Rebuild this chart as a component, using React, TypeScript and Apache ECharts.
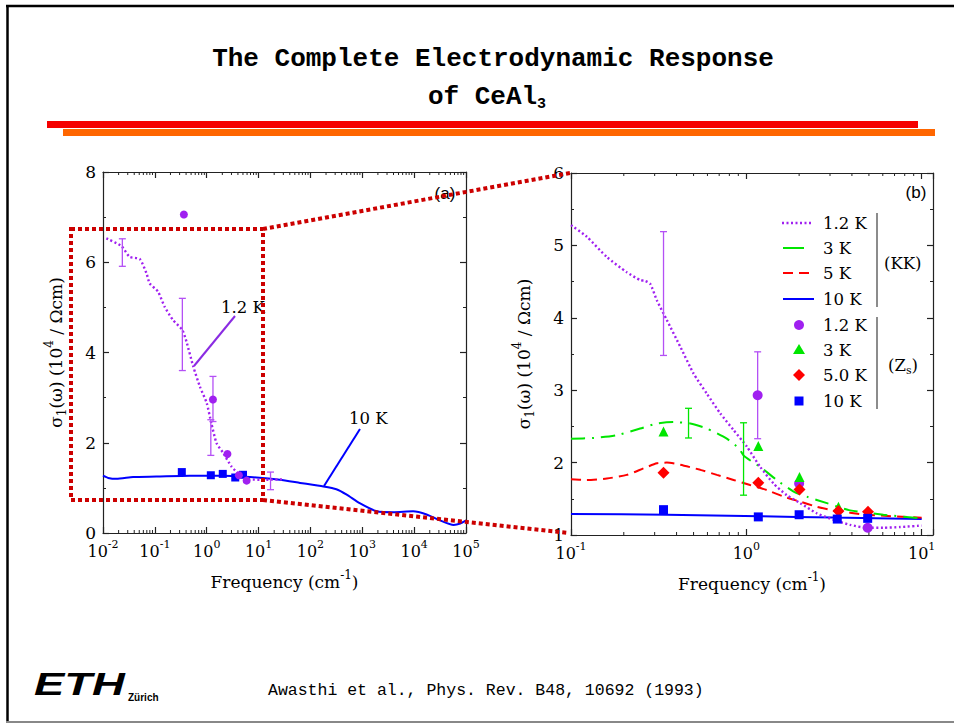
import React, { useEffect, useRef } from 'react';
import * as echarts from 'echarts';

const FONT = 'DejaVu Serif';

// ---------- Panel (a) data ----------
const aKK12Freq = [0.0116, 0.0226, 0.0327, 0.0513, 0.0692, 0.0794, 0.115, 0.155, 0.224, 0.339, 0.407, 0.55, 0.741, 1.0, 1.23, 1.55, 2.09, 3.02, 4.37, 6.76, 14.1, 29.5];
const aKK12Sig = [6.53, 6.36, 6.12, 6.07, 5.75, 5.53, 5.35, 5.01, 4.72, 4.5, 4.24, 3.69, 3.24, 2.88, 2.43, 1.99, 1.77, 1.47, 1.29, 1.19, 1.18, 1.19];
const aKK10Freq = [0.01, 0.0126, 0.0182, 0.038, 0.107, 0.468, 2.09, 9.12, 25.7, 63.1, 178, 316, 501, 891, 1905, 3981, 9550, 17400, 31600, 57500, 77600, 100000];
const aKK10Sig = [1.27, 1.22, 1.2, 1.24, 1.25, 1.27, 1.27, 1.23, 1.18, 1.11, 1.03, 0.97, 0.85, 0.66, 0.48, 0.46, 0.48, 0.41, 0.28, 0.18, 0.21, 0.28];
const aZs12Freq = [0.363, 1.32, 2.51, 4.17, 5.89];
const aZs12Sig = [7.06, 2.96, 1.75, 1.28, 1.16];
const aZs10Freq = [0.331, 1.2, 2.04, 3.55, 5.01];
const aZs10Sig = [1.35, 1.28, 1.31, 1.23, 1.29];
const aErrFreq = [0.0236, 0.339, 1.32, 1.2, 17.0];
const aErrLow = [5.91, 3.6, 2.47, 1.72, 0.96];
const aErrHigh = [6.52, 5.2, 3.47, 2.51, 1.35];

// ---------- Panel (b) data ----------
const bKK12Freq = [0.1, 0.123, 0.16, 0.208, 0.248, 0.265, 0.283, 0.309, 0.352, 0.42, 0.5, 0.596, 0.71, 0.845, 1.007, 1.2, 1.43, 1.7, 2.03, 2.52, 3.14, 3.91, 4.86, 6.05, 7.53, 10];
const bKK12Sig = [5.28, 5.12, 4.84, 4.63, 4.52, 4.51, 4.47, 4.24, 3.97, 3.6, 3.23, 2.95, 2.68, 2.45, 2.22, 1.94, 1.71, 1.55, 1.44, 1.3, 1.21, 1.14, 1.1, 1.1, 1.11, 1.13];
const bKK3Freq = [0.1, 0.135, 0.183, 0.248, 0.309, 0.385, 0.479, 0.596, 0.774, 0.905, 0.97, 1.2, 1.49, 1.86, 2.21, 2.88, 3.91, 6.05, 10];
const bKK3Sig = [2.33, 2.34, 2.38, 2.47, 2.54, 2.56, 2.54, 2.47, 2.33, 2.2, 2.09, 1.94, 1.76, 1.6, 1.53, 1.44, 1.34, 1.28, 1.23];
const bKK5Freq = [0.1, 0.123, 0.16, 0.208, 0.259, 0.309, 0.352, 0.42, 0.546, 0.679, 0.845, 1.05, 1.31, 1.63, 2.03, 2.52, 3.14, 4.86, 10];
const bKK5Sig = [1.77, 1.76, 1.78, 1.83, 1.92, 1.99, 2.0, 1.97, 1.9, 1.83, 1.76, 1.69, 1.62, 1.53, 1.46, 1.39, 1.34, 1.28, 1.24];
const bKK10Freq = [0.1, 0.352, 1.2, 3.14, 10];
const bKK10Sig = [1.29, 1.28, 1.26, 1.24, 1.22];
const bZs12Freq = [1.16, 2.0, 4.92];
const bZs12Sig = [2.93, 1.71, 1.1];
const bZs3Freq = [0.337, 1.17, 2.01, 3.35];
const bZs3Sig = [2.43, 2.23, 1.8, 1.39];
const bZs5Freq = [0.337, 1.17, 2.01, 3.35, 4.94];
const bZs5Sig = [1.86, 1.72, 1.63, 1.33, 1.32];
const bZs10Freq = [0.337, 1.17, 2.0, 3.3, 4.92];
const bZs10Sig = [1.35, 1.25, 1.28, 1.22, 1.23];
const bErr12Freq = [0.337, 1.16];
const bErr12Low = [3.48, 2.33];
const bErr12High = [5.19, 3.53];
const bErr3Freq = [0.468, 0.964];
const bErr3Low = [2.34, 1.55];
const bErr3High = [2.75, 2.55];

// minor log tick mantissas
const mantissas = [2, 3, 4, 5, 6, 7, 8, 9];
const aDecades = [0.01, 0.1, 1, 10, 100, 1000, 10000];
const bDecades = [0.1, 1];

const PURPLE = '#a020f0';
const PURPLE_ERR = '#b450f5';
const GREEN = '#00e600';
const RED = '#ff0000';
const BLUE = '#0000ff';
const AXIS = '#222';

const zip = (xs: number[], ys: number[]) => xs.map((x, i) => [x, ys[i]]);
const zip3 = (xs: number[], a: number[], b: number[]) => xs.map((x, i) => [x, a[i], b[i]]);

const rich = {
  b: { fontFamily: FONT, fontSize: 16, color: '#000', lineHeight: 24 },
  s: { fontFamily: FONT, fontSize: 11, color: '#000', verticalAlign: 'top', lineHeight: 13 },
  u: { fontFamily: FONT, fontSize: 11, color: '#000', verticalAlign: 'bottom', lineHeight: 13 },
};
const nameRich = {
  b: { fontFamily: FONT, fontSize: 17, color: '#000', lineHeight: 25 },
  s: { fontFamily: FONT, fontSize: 12, color: '#000', verticalAlign: 'top', lineHeight: 14 },
  u: { fontFamily: FONT, fontSize: 12, color: '#000', verticalAlign: 'bottom', lineHeight: 14 },
};

const logFmt = (v: number) => {
  const e = Math.log10(v);
  const r = Math.round(e);
  if (Math.abs(e - r) > 1e-6) return '';
  return `{b|10}{s|${r}}`;
};

function xAxisDef(grid: number, min: number, max: number, top: boolean) {
  return {
    type: 'log', logBase: 10, gridIndex: grid, min, max,
    position: top ? 'top' : 'bottom',
    axisLine: { show: true, onZero: false, lineStyle: { color: AXIS, width: 1.2 } },
    axisTick: { show: true, inside: true, length: 6, lineStyle: { color: AXIS, width: 1.2 } },
    axisLabel: top ? { show: false } : { show: true, margin: 6, formatter: logFmt, rich },
    splitLine: { show: false },
    name: top ? '' : '{b|Frequency (cm}{s|-1}{b|)}',
    nameLocation: 'middle', nameGap: 36,
    nameTextStyle: { rich: nameRich },
  };
}

function yAxisDef(grid: number, min: number, max: number, interval: number, right: boolean) {
  return {
    type: 'value', gridIndex: grid, min, max, interval,
    position: right ? 'right' : 'left',
    axisLine: { show: true, onZero: false, lineStyle: { color: AXIS, width: 1.2 } },
    axisTick: { show: true, inside: true, length: 6, lineStyle: { color: AXIS, width: 1.2 } },
    minorTick: { show: true, splitNumber: 2, length: 3, lineStyle: { color: AXIS, width: 1 } },
    axisLabel: right ? { show: false } : { show: true, margin: 7, fontFamily: FONT, fontSize: 17, color: '#000' },
    splitLine: { show: false },
    name: right ? '' : '{b|σ}{u|1}{b|(ω) (10}{s|4}{b| / Ωcm)}',
    nameLocation: 'middle', nameRotate: 90, nameGap: 35,
    nameTextStyle: { rich: nameRich },
  };
}

const errRender = (color: string) => (params: any, api: any) => {
  const x = api.value(0);
  const a = api.coord([x, api.value(1)]);
  const b = api.coord([x, api.value(2)]);
  const w = 3.5;
  const st = { stroke: color, lineWidth: 1.3 };
  return {
    type: 'group',
    children: [
      { type: 'line', shape: { x1: a[0], y1: a[1], x2: b[0], y2: b[1] }, style: st },
      { type: 'line', shape: { x1: a[0] - w, y1: a[1], x2: a[0] + w, y2: a[1] }, style: st },
      { type: 'line', shape: { x1: b[0] - w, y1: b[1], x2: b[0] + w, y2: b[1] }, style: st },
    ],
  };
};

const minorRender = (params: any, api: any) => {
  const x = api.value(0);
  const a = api.coord([x, api.value(1)]);
  const b = api.coord([x, api.value(2)]);
  const st = { stroke: AXIS, lineWidth: 1 };
  return {
    type: 'group',
    children: [
      { type: 'line', shape: { x1: a[0], y1: a[1], x2: a[0], y2: a[1] - 3 }, style: st },
      { type: 'line', shape: { x1: b[0], y1: b[1], x2: b[0], y2: b[1] + 3 }, style: st },
    ],
  };
};

function minorData(decades: number[], lo: number, hi: number, maxF: number) {
  const out: number[][] = [];
  decades.forEach((d) => mantissas.forEach((m) => { if (d * m <= maxF) out.push([d * m, lo, hi]); }));
  return out;
}

const lineSeries = (name: string, xi: number, data: number[][], color: string, type: any, width: number) => ({
  name, type: 'line', xAxisIndex: xi, yAxisIndex: xi, data, showSymbol: false, symbol: 'none',
  smooth: 0.2, lineStyle: { color, width, type, cap: 'butt' }, z: 3,
});

const scatterSeries = (name: string, xi: number, data: number[][], color: string, symbol: string, size: number) => ({
  name, type: 'scatter', xAxisIndex: xi, yAxisIndex: xi, data, symbol, symbolSize: size,
  itemStyle: { color, opacity: 1 }, z: 5,
});

const legendTextStyle = (text: string, x: number, y: number) => ({
  type: 'text', x, y,
  style: { text, fontFamily: FONT, fontSize: 16.5, fill: '#000', align: 'left', verticalAlign: 'middle' },
});

const RED_DOT = '#cc0000';
const dotted = { stroke: RED_DOT, lineWidth: 4, lineDash: [4, 3] };

const option: any = {
  animation: false,
  backgroundColor: '#fff',
  grid: [
    { left: 103, top: 172, width: 363, height: 361 },
    { left: 571, top: 173, width: 362, height: 362 },
  ],
  xAxis: [
    xAxisDef(0, 0.01, 100000, false),
    xAxisDef(0, 0.01, 100000, true),
    xAxisDef(1, 0.1, 11.6, false),
    xAxisDef(1, 0.1, 11.6, true),
  ],
  yAxis: [
    yAxisDef(0, 0, 8, 2, false),
    yAxisDef(0, 0, 8, 2, true),
    yAxisDef(1, 1, 6, 1, false),
    yAxisDef(1, 1, 6, 1, true),
  ],
  series: [
    // minor log ticks
    { type: 'custom', xAxisIndex: 0, yAxisIndex: 0, renderItem: minorRender, data: minorData(aDecades, 0, 8, 100000), silent: true, z: 1 },
    { type: 'custom', xAxisIndex: 2, yAxisIndex: 2, renderItem: minorRender, data: minorData(bDecades, 1, 6, 11.6), silent: true, z: 1 },
    // panel (a)
    lineSeries('a 10 K', 0, zip(aKK10Freq, aKK10Sig), BLUE, 'solid', 2),
    lineSeries('a 1.2 K', 0, zip(aKK12Freq, aKK12Sig), PURPLE, [2, 2.5], 2.4),
    { type: 'custom', xAxisIndex: 0, yAxisIndex: 0, renderItem: errRender(PURPLE_ERR), data: zip3(aErrFreq, aErrLow, aErrHigh), z: 4 },
    scatterSeries('a Zs 10 K', 0, zip(aZs10Freq, aZs10Sig), BLUE, 'rect', 8),
    scatterSeries('a Zs 1.2 K', 0, zip(aZs12Freq, aZs12Sig), PURPLE, 'circle', 8),
    // panel (b)
    lineSeries('b 10 K', 2, zip(bKK10Freq, bKK10Sig), BLUE, 'solid', 2),
    lineSeries('b 5 K', 2, zip(bKK5Freq, bKK5Sig), RED, [10, 6], 2),
    lineSeries('b 3 K', 2, zip(bKK3Freq, bKK3Sig), GREEN, [14, 7, 2, 7], 2),
    lineSeries('b 1.2 K', 2, zip(bKK12Freq, bKK12Sig), PURPLE, [2, 2.5], 2.4),
    { type: 'custom', xAxisIndex: 2, yAxisIndex: 2, renderItem: errRender(PURPLE_ERR), data: zip3(bErr12Freq, bErr12Low, bErr12High), z: 4 },
    { type: 'custom', xAxisIndex: 2, yAxisIndex: 2, renderItem: errRender(GREEN), data: zip3(bErr3Freq, bErr3Low, bErr3High), z: 4 },
    scatterSeries('b Zs 1.2 K', 2, zip(bZs12Freq, bZs12Sig), PURPLE, 'circle', 10),
    scatterSeries('b Zs 3 K', 2, zip(bZs3Freq, bZs3Sig), GREEN, 'triangle', 10),
    scatterSeries('b Zs 5.0 K', 2, zip(bZs5Freq, bZs5Sig), RED, 'diamond', 12),
    scatterSeries('b Zs 10 K', 2, zip(bZs10Freq, bZs10Sig), BLUE, 'rect', 9),
  ],
  graphic: [
    // page frame
    { type: 'line', shape: { x1: 6, y1: 6, x2: 954, y2: 6 }, style: { stroke: '#000', lineWidth: 2.5 } },
    { type: 'line', shape: { x1: 7.5, y1: 5, x2: 7.5, y2: 723 }, style: { stroke: '#000', lineWidth: 2.5 } },
    { type: 'line', shape: { x1: 6, y1: 722, x2: 954, y2: 722 }, style: { stroke: '#888', lineWidth: 2 } },
    // title
    {
      type: 'text', x: 493, y: 59,
      style: { text: 'The Complete Electrodynamic Response', fontFamily: 'Liberation Mono', fontWeight: 'bold', fontSize: 26, fill: '#000', align: 'center', verticalAlign: 'middle' },
    },
    {
      type: 'text', x: 487, y: 97,
      style: {
        text: '{t|of CeAl}{u|3}', align: 'center', verticalAlign: 'middle',
        rich: {
          t: { fontFamily: 'Liberation Mono', fontWeight: 'bold', fontSize: 26, fill: '#000', lineHeight: 30 },
          u: { fontFamily: 'Liberation Mono', fontWeight: 'bold', fontSize: 15, fill: '#000', verticalAlign: 'bottom', lineHeight: 16 },
        },
      },
    },
    { type: 'rect', shape: { x: 47, y: 121, width: 871, height: 7 }, style: { fill: '#f50000' } },
    { type: 'rect', shape: { x: 63, y: 129, width: 872, height: 7 }, style: { fill: '#ff6600' } },
    // panel labels
    { type: 'text', x: 445, y: 193, style: { text: '(a)', fontFamily: 'Liberation Sans', fontSize: 17, fill: '#000', align: 'center', verticalAlign: 'middle' } },
    { type: 'text', x: 916, y: 192, style: { text: '(b)', fontFamily: 'Liberation Sans', fontSize: 17, fill: '#000', align: 'center', verticalAlign: 'middle' } },
    // annotations in (a)
    { type: 'line', shape: { x1: 235, y1: 316, x2: 194, y2: 366 }, style: { stroke: '#8a2be2', lineWidth: 2 } },
    { type: 'text', x: 221, y: 307, style: { text: '1.2 K', fontFamily: FONT, fontSize: 16.5, fill: '#000', align: 'left', verticalAlign: 'middle' } },
    { type: 'line', shape: { x1: 360, y1: 429, x2: 324, y2: 486 }, style: { stroke: BLUE, lineWidth: 2 } },
    { type: 'text', x: 349, y: 418, style: { text: '10 K', fontFamily: FONT, fontSize: 16.5, fill: '#000', align: 'left', verticalAlign: 'middle' } },
    // legend in (b)
    { type: 'line', shape: { x1: 782, y1: 223, x2: 813, y2: 223 }, style: { stroke: PURPLE, lineWidth: 2.4, lineDash: [2, 2.5] } },
    { type: 'line', shape: { x1: 783, y1: 248, x2: 804, y2: 248 }, style: { stroke: GREEN, lineWidth: 2 } },
    { type: 'line', shape: { x1: 783, y1: 273, x2: 814, y2: 273 }, style: { stroke: RED, lineWidth: 2, lineDash: [10, 6] } },
    { type: 'line', shape: { x1: 783, y1: 299, x2: 814, y2: 299 }, style: { stroke: BLUE, lineWidth: 2 } },
    { type: 'circle', shape: { cx: 799, cy: 325, r: 5 }, style: { fill: PURPLE } },
    { type: 'polygon', shape: { points: [[799, 344], [805, 354], [793, 354]] }, style: { fill: GREEN } },
    { type: 'polygon', shape: { points: [[799, 369], [805, 375], [799, 381], [793, 375]] }, style: { fill: RED } },
    { type: 'rect', shape: { x: 794.5, y: 396.5, width: 9, height: 9 }, style: { fill: BLUE } },
    legendTextStyle('1.2 K', 823, 223),
    legendTextStyle('3 K', 823, 248),
    legendTextStyle('5 K', 823, 273),
    legendTextStyle('10 K', 823, 299),
    legendTextStyle('1.2 K', 823, 325),
    legendTextStyle('3 K', 823, 350),
    legendTextStyle('5.0 K', 823, 375),
    legendTextStyle('10 K', 823, 401),
    { type: 'line', shape: { x1: 877, y1: 213, x2: 877, y2: 307 }, style: { stroke: '#666', lineWidth: 1.5 } },
    { type: 'line', shape: { x1: 877, y1: 317, x2: 877, y2: 409 }, style: { stroke: '#666', lineWidth: 1.5 } },
    legendTextStyle('(KK)', 884, 263),
    {
      type: 'text', x: 888, y: 365,
      style: {
        text: '{t|(Z}{u|s}{t|)}', align: 'left', verticalAlign: 'middle',
        rich: {
          t: { fontFamily: FONT, fontSize: 16.5, fill: '#000', lineHeight: 22 },
          u: { fontFamily: FONT, fontSize: 11, fill: '#000', verticalAlign: 'bottom', lineHeight: 13 },
        },
      },
    },
    // red dotted zoom box and connectors
    { type: 'rect', z: 100, shape: { x: 71, y: 229, width: 192, height: 271 }, style: { fill: 'none', ...dotted } },
    { type: 'line', z: 100, shape: { x1: 263, y1: 229, x2: 570, y2: 173 }, style: dotted },
    { type: 'line', z: 100, shape: { x1: 263, y1: 500, x2: 569, y2: 533 }, style: dotted },
    // footer
    {
      type: 'text', x: 34, y: 668, scaleX: 1.42,
      style: { text: 'ETH', fontFamily: 'Liberation Sans', fontWeight: 'bold', fontStyle: 'italic', fontSize: 32, fill: '#000', align: 'left', verticalAlign: 'top' },
    },
    { type: 'text', x: 128, y: 697, style: { text: 'Zürich', fontFamily: 'Liberation Sans', fontWeight: 'bold', fontSize: 10, fill: '#000', align: 'left', verticalAlign: 'middle' } },
    { type: 'text', x: 268, y: 690, style: { text: 'Awasthi et al., Phys. Rev. B48, 10692 (1993)', fontFamily: 'Liberation Mono', fontSize: 16.5, fill: '#000', align: 'left', verticalAlign: 'middle' } },
  ],
};

export default function App() {
  const ref = useRef<HTMLDivElement>(null);
  useEffect(() => {
    const chart = echarts.init(ref.current!, null, { renderer: 'svg' });
    chart.setOption(option);
    return () => chart.dispose();
  }, []);
  return (
    <div
      ref={ref}
      style={{ position: 'fixed', left: 0, top: 0, width: 954, height: 723, background: '#fff' }}
    />
  );
}
